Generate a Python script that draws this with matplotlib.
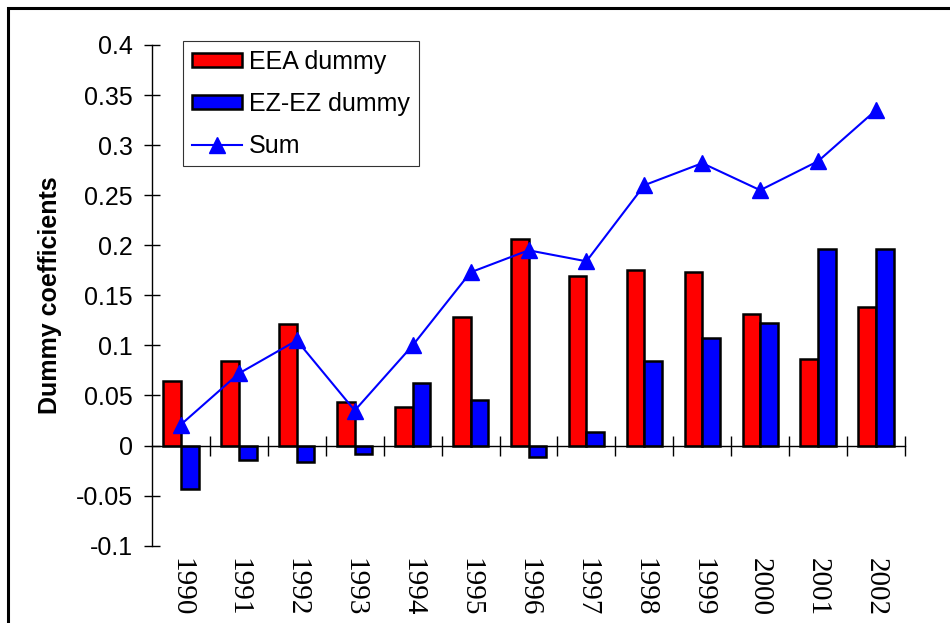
import matplotlib as mpl
mpl.use('Agg')
import matplotlib.pyplot as plt
import matplotlib.patches as mpatches
import numpy as np

years = ['1990', '1991', '1992', '1993', '1994', '1995', '1996',
         '1997', '1998', '1999', '2000', '2001', '2002']
eea = [0.064, 0.084, 0.121, 0.043, 0.039, 0.128, 0.206,
       0.169, 0.175, 0.173, 0.131, 0.086, 0.138]
ezez = [-0.043, -0.014, -0.016, -0.008, 0.062, 0.045, -0.011,
        0.014, 0.084, 0.107, 0.122, 0.196, 0.196]
total = [0.021, 0.072, 0.105, 0.035, 0.100, 0.173, 0.195,
         0.184, 0.260, 0.282, 0.255, 0.284, 0.335]

plt.rcParams['font.family'] = ['Liberation Sans', 'DejaVu Sans']

fig = plt.figure(figsize=(9.5, 6.23), dpi=100)
ax = fig.add_axes([152/950, 1-545.7/623, (905-152)/950, (545.7-45)/623])

x = np.arange(len(years))
w = 0.305
b1 = ax.bar(x - w/2, eea, w, color='#ff0000', edgecolor='black', linewidth=1.8, label='EEA dummy', zorder=2)
b2 = ax.bar(x + w/2, ezez, w, color='#0000ff', edgecolor='black', linewidth=1.8, label='EZ-EZ dummy', zorder=2)
l1, = ax.plot(x, total, color='#0000ff', linewidth=1.5, marker='^', markersize=11, label='Sum', zorder=3)

ax.set_xlim(-0.5, len(years) - 0.5)
ax.set_ylim(-0.1, 0.4)
ax.set_yticks(np.arange(-0.1, 0.41, 0.05))
ax.set_yticklabels(['-0.1', '-0.05', '0', '0.05', '0.1', '0.15', '0.2', '0.25', '0.3', '0.35', '0.4'])
ax.tick_params(axis='y', direction='inout', length=12, width=1, pad=8, labelsize=18)

ax.spines['top'].set_visible(False)
ax.spines['right'].set_visible(False)
ax.spines['bottom'].set_position(('data', 0))
ax.spines['left'].set_linewidth(1)
ax.spines['bottom'].set_linewidth(1)

ax.set_xticks(x)
ax.set_xticklabels(years, rotation=-90, family=['Liberation Serif'], fontsize=21)
ax.set_xticks(np.arange(0.5, len(years), 1), minor=True)
ax.tick_params(axis='x', which='major', length=0, pad=81)
ax.tick_params(axis='x', which='minor', direction='inout', length=14, width=1)

ax.set_ylabel('Dummy coefficients', fontsize=18, fontweight='bold', labelpad=10)

leg = ax.legend([b1, b2, l1], ['EEA dummy', 'EZ-EZ dummy', 'Sum'],
                loc='upper left', bbox_to_anchor=(0.041, 1.008), fontsize=18, frameon=True,
                fancybox=False, edgecolor='black', handlelength=2.0, handleheight=0.5,
                borderpad=0.35, labelspacing=0.72, handletextpad=0.3, borderaxespad=0)
leg.get_frame().set_linewidth(0.8)

# outer frame, runs past the right and bottom edge like the source
frame = mpatches.Rectangle((8/950, -0.1), 1.2, 1.1 - 8/623, transform=fig.transFigure,
                           fill=False, edgecolor='black', linewidth=2.2, clip_on=False)
fig.patches.append(frame)

fig.savefig('out.png', dpi=100)
